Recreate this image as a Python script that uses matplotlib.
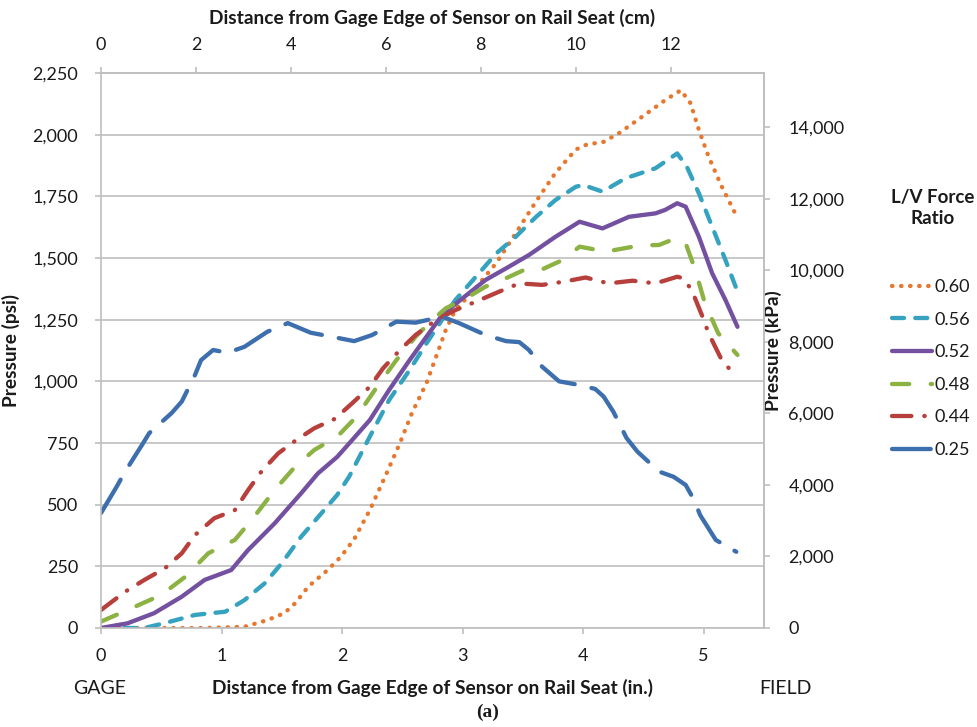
import numpy as np
import matplotlib.pyplot as plt
from matplotlib.ticker import FuncFormatter, MultipleLocator

# ===== data (inches from gage edge, pressure in psi) =====
labels = ["0.60", "0.56", "0.52", "0.48", "0.44", "0.25"]

x_060 = [0, 0.5, 0.86, 1.19, 1.38, 1.52, 1.61, 1.72, 1.88, 1.99, 2.1, 2.23, 2.37, 2.48, 2.58,
         2.7, 2.78, 2.86, 2.94, 3.0, 3.11, 3.28, 3.44, 3.61, 3.77, 3.94, 4.03, 4.17, 4.3,
         4.49, 4.68, 4.81, 4.89, 4.96, 5.04, 5.15, 5.26]
p_060 = [0, 0, 0, 5, 32, 60, 100, 168, 235, 289, 360, 478, 628, 750, 872,
         993, 1100, 1208, 1290, 1320, 1380, 1480, 1600, 1730, 1845, 1940, 1960, 1971, 2007,
         2073, 2140, 2180, 2128, 2019, 1911, 1789, 1682]

x_056 = [0, 0.36, 0.53, 0.78, 1.03, 1.19, 1.36, 1.5, 1.66, 1.83, 1.96, 2.06, 2.23, 2.39, 2.56,
         2.7, 2.81, 2.94, 3.11, 3.28, 3.44, 3.61, 3.77, 3.94, 4.0, 4.16, 4.35, 4.6, 4.78,
         4.86, 4.96, 5.07, 5.18, 5.27]
p_056 = [0, 0, 20, 53, 66, 113, 182, 263, 370, 466, 540, 615, 776, 924, 1046,
         1154, 1235, 1330, 1424, 1519, 1586, 1667, 1735, 1789, 1796, 1769, 1823, 1864, 1924,
         1870, 1762, 1627, 1492, 1377]

x_052 = [0, 0.22, 0.44, 0.67, 0.86, 1.08, 1.22, 1.44, 1.66, 1.8, 1.96, 2.06, 2.23, 2.39, 2.56,
         2.7, 2.83, 3.0, 3.19, 3.36, 3.55, 3.77, 3.97, 4.16, 4.38, 4.6, 4.68, 4.78, 4.85,
         4.96, 5.07, 5.18, 5.28]
p_052 = [0, 19, 60, 127, 195, 235, 316, 424, 546, 627, 694, 749, 843, 965, 1086,
         1181, 1269, 1337, 1411, 1458, 1512, 1586, 1647, 1620, 1667, 1681, 1695, 1722, 1708,
         1586, 1438, 1330, 1221]

x_048 = [0, 0.22, 0.5, 0.7, 0.89, 1.11, 1.25, 1.44, 1.61, 1.77, 1.96, 2.12, 2.31, 2.45, 2.61,
         2.75, 2.86, 3.03, 3.19, 3.36, 3.52, 3.66, 3.83, 3.97, 4.19, 4.46, 4.63, 4.77, 4.85,
         4.93, 5.01, 5.12, 5.28]
p_048 = [26, 73, 134, 208, 303, 357, 438, 559, 654, 722, 776, 857, 992, 1086, 1181,
         1249, 1296, 1337, 1384, 1418, 1454, 1454, 1492, 1546, 1526, 1550, 1553, 1580, 1560,
         1451, 1316, 1195, 1107]

x_044 = [0, 0.2, 0.36, 0.53, 0.67, 0.78, 0.94, 1.11, 1.22, 1.33, 1.47, 1.62, 1.77, 1.94, 2.09,
         2.23, 2.34, 2.48, 2.61, 2.78, 2.94, 3.11, 3.3, 3.47, 3.66, 3.84, 4.02, 4.21, 4.41,
         4.6, 4.78, 4.83, 4.9, 4.99, 5.04, 5.15, 5.25]
p_044 = [73, 147, 195, 242, 303, 377, 445, 478, 559, 634, 708, 762, 810, 848, 914,
         978, 1053, 1127, 1188, 1249, 1289, 1323, 1363, 1397, 1391, 1404, 1421, 1397, 1408,
         1397, 1424, 1418, 1370, 1262, 1195, 1086, 1030]

x_025 = [0, 0.13, 0.2, 0.34, 0.4, 0.585, 0.67, 0.78, 0.83, 0.93, 1.05, 1.19, 1.38, 1.55, 1.74,
         1.88, 2.1, 2.25, 2.45, 2.61, 2.83, 2.97, 3.19, 3.36, 3.47, 3.55, 3.66, 3.8, 3.97,
         4.1, 4.17, 4.25, 4.36, 4.45, 4.63, 4.75, 4.85, 4.92, 4.97, 5.1, 5.27]
p_025 = [466, 573, 634, 742, 790, 871, 918, 1026, 1086, 1127, 1116, 1140, 1201, 1236, 1197,
         1184, 1163, 1188, 1242, 1238, 1262, 1236, 1188, 1163, 1159, 1127, 1059, 1000, 985,
         969, 938, 877, 770, 715, 634, 613, 580, 519, 458, 357, 309]

xs = [x_060, x_056, x_052, x_048, x_044, x_025]
ps = [p_060, p_056, p_052, p_048, p_044, p_025]

colors = ["#E8772E", "#35A3C0", "#7351A0", "#8CB244", "#B8403C", "#3D6FAE"]
dashes = [(0.1, 2.0), (2.8, 2.6), None, (4.0, 5.0), (4.5, 3.0, 0.1, 3.0), (9.0, 4.0)]

PSI_TO_KPA = 6.894757
IN_TO_CM = 2.54

plt.rcParams['font.family'] = ['Lato', 'DejaVu Sans']
grid_c = "#BFBFBF"
txt_c = "#1a1a1a"
fs = 13
fs_lab = 13.8

fig = plt.figure(figsize=(9.77, 7.27), dpi=100)
ax = fig.add_axes([101/977, 1 - 628/727, (764 - 101)/977, (628 - 73)/727])

for x, p, c, d in zip(xs, ps, colors, dashes):
    line, = ax.plot(x, p, color=c, lw=3.1, solid_capstyle='round', dash_capstyle='round')
    if d is not None:
        line.set_dashes(d)

ax.set_xlim(0, 5.5)
ax.set_ylim(0, 2250)
ax.yaxis.set_major_locator(MultipleLocator(250))
ax.xaxis.set_major_locator(MultipleLocator(1))
ax.yaxis.set_major_formatter(FuncFormatter(lambda v, _: f"{v:,.0f}"))
ax.yaxis.grid(True, color=grid_c, lw=1.2)
ax.set_axisbelow(True)

for s in ax.spines.values():
    s.set_color(grid_c)
    s.set_linewidth(1.2)
ax.tick_params(colors=grid_c, labelcolor=txt_c, labelsize=fs, length=4.5, width=1.2)
ax.tick_params(axis='y', pad=12)
ax.tick_params(axis='x', pad=10)

ax.set_ylabel("Pressure (psi)", fontsize=fs_lab, fontweight='bold', color=txt_c)
ax.yaxis.set_label_coords(-(101 - 20)/663, 0.5)
ax.set_xlabel("Distance from Gage Edge of Sensor on Rail Seat (in.)", fontsize=fs_lab,
              fontweight='bold', color=txt_c)
ax.xaxis.set_label_coords(0.5, -(679 - 628)/555)

# second scales: kPa on the right, cm on top
ax_r = ax.secondary_yaxis('right', functions=(lambda v: v*PSI_TO_KPA, lambda v: v/PSI_TO_KPA))
ax_r.yaxis.set_major_locator(MultipleLocator(2000))
ax_r.yaxis.set_major_formatter(FuncFormatter(lambda v, _: f"{v:,.0f}"))
ax_r.spines['right'].set_color(grid_c)
ax_r.spines['right'].set_linewidth(1.2)
ax_r.tick_params(colors=grid_c, labelcolor=txt_c, labelsize=fs, length=4.5, width=1.2, pad=13)
ax_r.set_ylabel("Pressure (kPa)", fontsize=fs_lab, fontweight='bold', color=txt_c)
ax_r.yaxis.set_label_coords(1 + (858 - 764)/663, 0.5)

ax_t = ax.secondary_xaxis('top', functions=(lambda v: v*IN_TO_CM, lambda v: v/IN_TO_CM))
ax_t.xaxis.set_major_locator(MultipleLocator(2))
ax_t.spines['top'].set_color(grid_c)
ax_t.spines['top'].set_linewidth(1.2)
ax_t.tick_params(colors=grid_c, labelcolor=txt_c, labelsize=fs, length=4.5, width=1.2, pad=10)
ax_t.set_xlabel("Distance from Gage Edge of Sensor on Rail Seat (cm)", fontsize=fs_lab,
                fontweight='bold', color=txt_c, labelpad=9)

fig.text(100/977, 1 - 688/727, "GAGE", fontsize=14, color=txt_c, ha='center', va='center')
fig.text(785/977, 1 - 688/727, "FIELD", fontsize=14, color=txt_c, ha='center', va='center')
fig.text(488/977, 1 - 712/727, "(a)", fontsize=14, fontweight='bold', color=txt_c,
         ha='center', va='center', family=['Liberation Serif', 'DejaVu Serif'])

# legend: title drawn as its own text so the gap above the entries matches
fig.text(933/977, 1 - 208/727, "L/V Force\nRatio", fontsize=13.5, fontweight='bold',
         color=txt_c, ha='center', va='center', multialignment='center', linespacing=1.25)
leg = fig.legend(ax.get_lines(), labels, loc='upper left', bbox_to_anchor=(892/977, 1 - 279/727),
                 frameon=False, fontsize=fs, handlelength=2.2, handletextpad=0.15,
                 labelspacing=0.92, borderaxespad=0, borderpad=0)
for t in leg.get_texts():
    t.set_color(txt_c)

fig.savefig("out.png", dpi=100)
